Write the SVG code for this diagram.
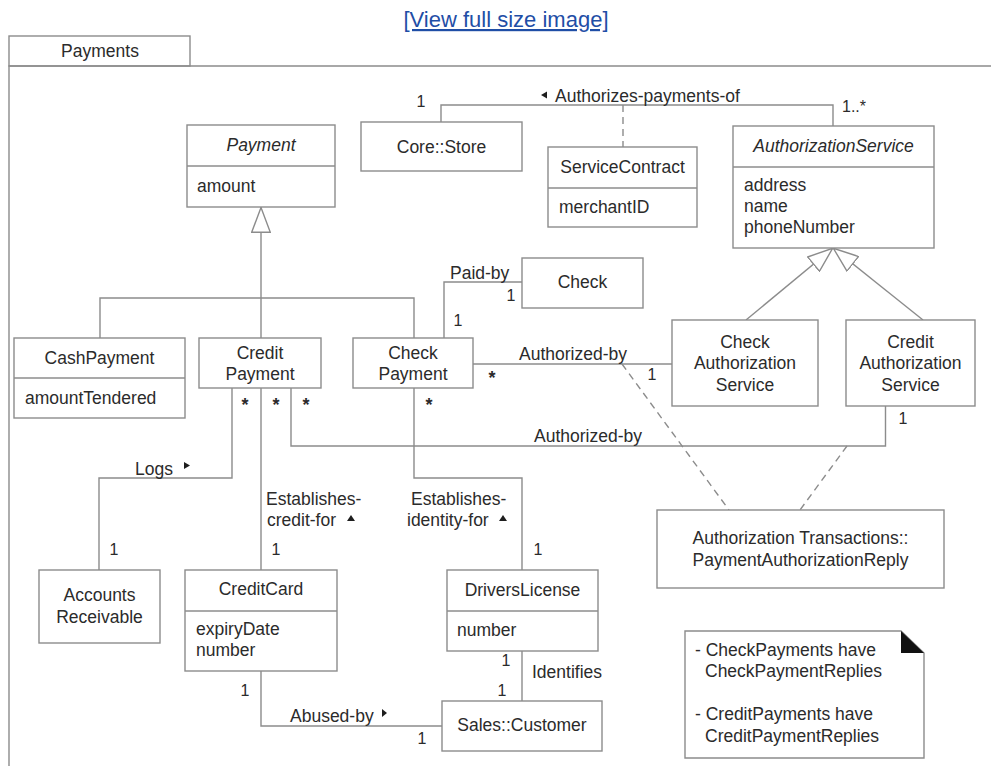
<svg xmlns="http://www.w3.org/2000/svg" width="991" height="766" viewBox="0 0 991 766">
<style>
.b{fill:#fff;stroke:#8c8c8c;stroke-width:1.4}
.l{fill:none;stroke:#8c8c8c;stroke-width:1.4}
.d{stroke-dasharray:7 5}
.g{marker-end:url(#gen)}
text{font-family:"Liberation Sans",Arial,Helvetica,sans-serif;font-size:17.5px;fill:#2b2b2b}
.c{text-anchor:middle}
.m{font-size:16px}
.i{font-style:italic}
.s{font-size:18px;font-weight:bold}
.t{fill:#1e1e1e}
.link{font-size:22px;fill:#1f4ea6;text-decoration:underline}
</style>
<defs>
<marker id="gen" viewBox="0 0 26 20" refX="26" refY="10" markerWidth="26" markerHeight="20" markerUnits="userSpaceOnUse" orient="auto">
<path d="M0.7,0.7 L25.5,10 L0.7,19.3 Z" fill="#fff" stroke="#8c8c8c" stroke-width="1.4"/>
</marker>
</defs>
<rect width="991" height="766" fill="#fff"/>
<text class="link c" x="506" y="27">[View full size image]</text>

<g id="frame">
<rect class="b" x="9" y="36" width="181" height="30"/>
<path class="l" d="M9,766 V66 H991"/>
<text class="c" x="100" y="57">Payments</text>
</g>

<g id="connectors">
<path class="l" d="M441,122 V105 H833 V126"/>
<path class="l d" d="M623,105 V147"/>
<path class="l g" d="M261,338 V207"/>
<path class="l" d="M100,338 V298 H414 V338"/>
<path class="l g" d="M746,320 L833,248"/>
<path class="l g" d="M923,320 L833,248"/>
<path class="l" d="M444,338 V282 H522"/>
<path class="l" d="M473,364 H672"/>
<path class="l" d="M291,388 V446 H885.5 V406"/>
<path class="l" d="M232,388 V478 H99 V570"/>
<path class="l" d="M261,388 V570"/>
<path class="l" d="M414,388 V478 H522 V570"/>
<path class="l" d="M261,671 V726 H442"/>
<path class="l" d="M522,651 V701"/>
<path class="l d" d="M622,364 L729,510"/>
<path class="l d" d="M847,446 L800,510"/>
<path class="t" d="M541,95 L547,91.5 L547,98.5 Z"/>
<path class="t" d="M184,462 L190,465.5 L184,469 Z"/>
<path class="t" d="M347,521 L351,515 L355,521 Z"/>
<path class="t" d="M499,521 L503,515 L507,521 Z"/>
<path class="t" d="M382,709 L387,713 L382,717 Z"/>
<text x="555" y="102">Authorizes-payments-of</text>
<text class="m c" x="421" y="107">1</text>
<text class="m" x="842" y="112">1..*</text>
<text x="450" y="279">Paid-by</text>
<text class="m c" x="511" y="301">1</text>
<text class="m c" x="458" y="326">1</text>
<text x="519" y="360">Authorized-by</text>
<text class="s c" x="492" y="384">*</text>
<text class="m c" x="652" y="380">1</text>
<text x="534" y="442">Authorized-by</text>
<text class="m c" x="903" y="424">1</text>
<text class="s c" x="245" y="411">*</text>
<text class="s c" x="276" y="411">*</text>
<text class="s c" x="306" y="411">*</text>
<text class="s c" x="429" y="411">*</text>
<text x="135" y="475">Logs</text>
<text class="m c" x="114" y="555">1</text>
<text x="266" y="505">Establishes-</text>
<text x="267" y="526">credit-for</text>
<text class="m c" x="276" y="555">1</text>
<text x="411" y="505">Establishes-</text>
<text x="407" y="526">identity-for</text>
<text class="m c" x="538" y="555">1</text>
<text class="m c" x="506" y="666">1</text>
<text class="m c" x="502" y="696">1</text>
<text x="532" y="678">Identifies</text>
<text class="m c" x="245" y="696">1</text>
<text x="290" y="722">Abused-by</text>
<text class="m c" x="422" y="744">1</text>
</g>

<g id="CoreStore">
<rect class="b" x="361" y="122" width="161" height="49"/>
<text class="c" x="441.5" y="153">Core::Store</text>
</g>
<g id="ServiceContract">
<rect class="b" x="548" y="147" width="149" height="80"/>
<path class="l" d="M548,188 H697"/>
<text class="c" x="622.5" y="173">ServiceContract</text>
<text x="559" y="213">merchantID</text>
</g>
<g id="AuthorizationService">
<rect class="b" x="733" y="126" width="201" height="122"/>
<path class="l" d="M733,167 H934"/>
<text class="c i" x="833.5" y="152">AuthorizationService</text>
<text x="744" y="191">address</text>
<text x="744" y="212">name</text>
<text x="744" y="233">phoneNumber</text>
</g>
<g id="Payment">
<rect class="b" x="187" y="125" width="148" height="82"/>
<path class="l" d="M187,166 H335"/>
<text class="c i" x="261" y="151">Payment</text>
<text x="197" y="192">amount</text>
</g>
<g id="CashPayment">
<rect class="b" x="14" y="338" width="171" height="80"/>
<path class="l" d="M14,378 H185"/>
<text class="c" x="99.5" y="364">CashPayment</text>
<text x="25" y="404">amountTendered</text>
</g>
<g id="CreditPayment">
<rect class="b" x="199" y="338" width="122" height="50"/>
<text class="c" x="260" y="359">Credit</text>
<text class="c" x="260" y="380">Payment</text>
</g>
<g id="CheckPayment">
<rect class="b" x="353" y="338" width="120" height="50"/>
<text class="c" x="413" y="359">Check</text>
<text class="c" x="413" y="380">Payment</text>
</g>
<g id="Check">
<rect class="b" x="522" y="258" width="121" height="50"/>
<text class="c" x="582.5" y="288">Check</text>
</g>
<g id="CheckAuthorizationService">
<rect class="b" x="672" y="320" width="146" height="86"/>
<text class="c" x="745" y="348">Check</text>
<text class="c" x="745" y="369">Authorization</text>
<text class="c" x="745" y="391">Service</text>
</g>
<g id="CreditAuthorizationService">
<rect class="b" x="846" y="320" width="129" height="86"/>
<text class="c" x="910.5" y="348">Credit</text>
<text class="c" x="910.5" y="369">Authorization</text>
<text class="c" x="910.5" y="391">Service</text>
</g>
<g id="PaymentAuthorizationReply">
<rect class="b" x="657" y="510" width="287" height="78"/>
<text class="c" x="800.5" y="544">Authorization Transactions::</text>
<text class="c" x="800.5" y="566">PaymentAuthorizationReply</text>
</g>
<g id="AccountsReceivable">
<rect class="b" x="39" y="570" width="121" height="73"/>
<text class="c" x="99.5" y="601">Accounts</text>
<text class="c" x="99.5" y="623">Receivable</text>
</g>
<g id="CreditCard">
<rect class="b" x="185" y="570" width="152" height="101"/>
<path class="l" d="M185,611 H337"/>
<text class="c" x="261" y="595">CreditCard</text>
<text x="196" y="635">expiryDate</text>
<text x="196" y="656">number</text>
</g>
<g id="DriversLicense">
<rect class="b" x="447" y="570" width="151" height="81"/>
<path class="l" d="M447,611 H598"/>
<text class="c" x="522.5" y="596">DriversLicense</text>
<text x="457" y="636">number</text>
</g>
<g id="SalesCustomer">
<rect class="b" x="442" y="701" width="160" height="50"/>
<text class="c" x="522" y="731">Sales::Customer</text>
</g>
<g id="Note">
<path class="b" d="M685,631 H901 L924,653 V758 H685 Z"/>
<path fill="#111" d="M901,631 V653 H924 Z"/>
<text x="695" y="656">- CheckPayments have</text>
<text x="705" y="677">CheckPaymentReplies</text>
<text x="695" y="720">- CreditPayments have</text>
<text x="705" y="742">CreditPaymentReplies</text>
</g>
</svg>
